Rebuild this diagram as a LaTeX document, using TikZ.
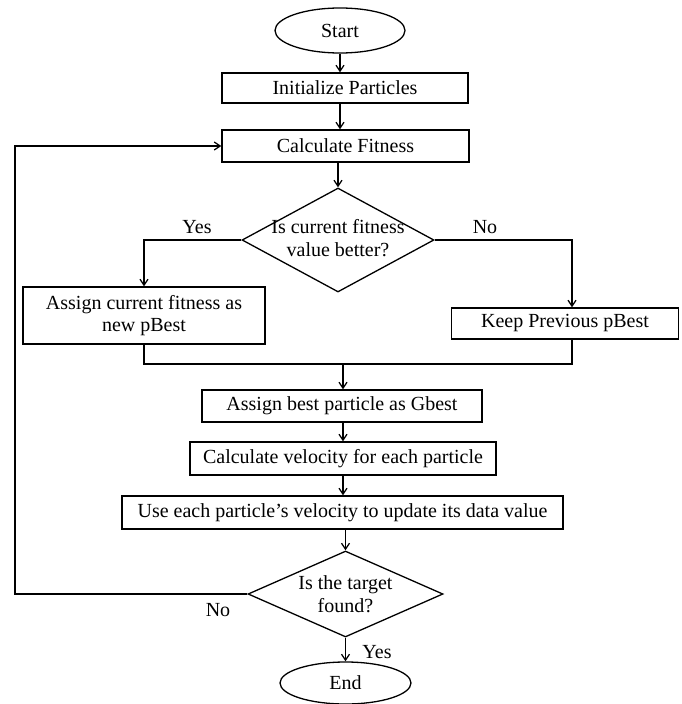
\documentclass[tikz,border=0pt]{standalone}
\usepackage{fontspec}
\setmainfont{Liberation Serif}
\usetikzlibrary{shapes.geometric,arrows.meta}
\begin{document}
\begin{tikzpicture}[x=1pt,y=-1pt,
  font=\fontsize{20}{22.5}\selectfont,
  line width=1.3pt,
  boxnode/.style={draw, rectangle, inner sep=0pt, align=center},
  ellnode/.style={draw, ellipse, inner sep=0pt},
  dianode/.style={draw, diamond, inner sep=0pt},
  lbl/.style={inner sep=0pt},
  arr/.style={-{Straight Barb[length=6pt,width=8pt]}}]
\useasboundingbox (0,0) rectangle (681,704);

\node[ellnode, minimum width=130pt, minimum height=45pt] (start) at (340,30.5) {Start};
\node[boxnode, minimum width=246pt, minimum height=30pt] (init) at (345,88) {Initialize Particles};
\node[boxnode, minimum width=247pt, minimum height=32pt] (calc) at (345.5,146) {Calculate Fitness};
\node[dianode, minimum width=192pt, minimum height=104pt] (d1) at (338,240) {};
\node[lbl, align=center] (d1t) at (338,238) {Is current fitness\\value better?};
\node[boxnode, minimum width=242pt, minimum height=57pt] (b1) at (144,315.5) {Assign current fitness as\\new pBest};
\node[boxnode, minimum width=227pt, minimum height=31pt] (b2) at (565,323.5) {Keep Previous pBest};
\node[boxnode, minimum width=280pt, minimum height=32pt] (gbest) at (342,406) {Assign best particle as Gbest};
\node[boxnode, minimum width=306pt, minimum height=33pt] (vel) at (343,458.5) {Calculate velocity for each particle};
\node[boxnode, minimum width=441pt, minimum height=33pt] (use) at (342.5,512.5) {Use each particle's velocity to update its data value};
\node[dianode, minimum width=195pt, minimum height=86pt] (d2) at (345.5,594) {};
\node[lbl, align=center] (d2t) at (345.5,594) {Is the target\\found?};
\node[ellnode, minimum width=131pt, minimum height=42pt] (end) at (345.5,683) {End};

\node[lbl] (yes1) at (197,227) {Yes};
\node[lbl] (no1) at (485,227) {No};
\node[lbl] (no2) at (218,610) {No};
\node[lbl] (yes2) at (377,652) {Yes};

\coordinate (kx) at (572,240);
\coordinate (m) at (343,364);
\coordinate (lp) at (15,594);

\draw[arr] (start.south) -- (start.south |- init.north);
\draw[arr] (start.south |- init.south) -- (start.south |- calc.north);
\draw[arr] (d1.north |- calc.south) -- (d1.north);
\draw[arr] (d1.west) -| (b1.north);
\draw[arr] (d1.east) -- (kx) -- (kx |- b2.north);
\draw (b1.south) |- (m) -| (kx |- b2.south);
\draw[arr] (m) -- (m |- gbest.north);
\draw[arr] (m |- gbest.south) -- (m |- vel.north);
\draw[arr] (m |- vel.south) -- (m |- use.north);
\draw[arr] (d2.north |- use.south) -- (d2.north);
\draw[arr] (d2.south) -- (end.north);
\draw[arr] (d2.west) -- (lp) |- (calc.west);
\end{tikzpicture}
\end{document}
